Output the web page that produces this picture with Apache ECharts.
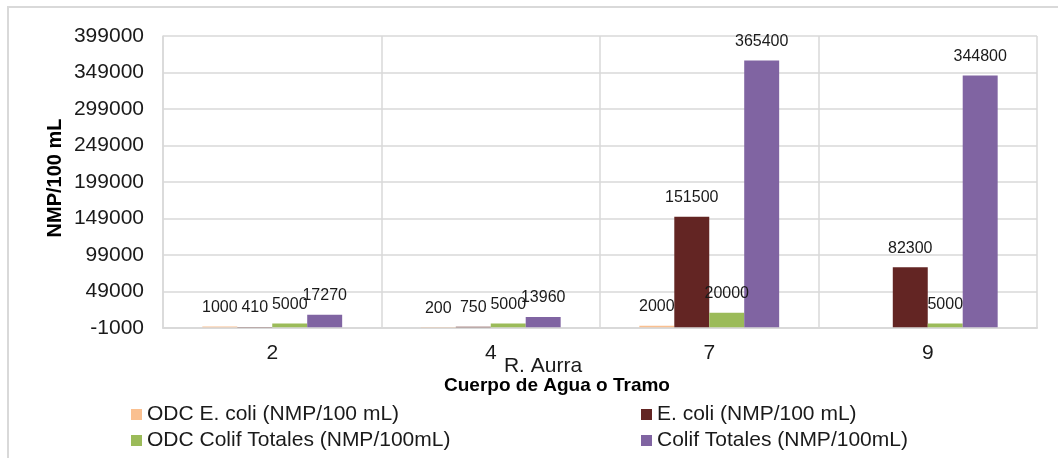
<!DOCTYPE html>
<html>
<head>
<meta charset="utf-8">
<script src="https://cdn.jsdelivr.net/npm/echarts@6/dist/echarts.min.js"></script>
<style>
html,body{margin:0;padding:0;background:#fff;}
#c{width:1058px;height:458px;}
</style>
</head>
<body>
<div id="c"></div>
<script>
const categories = ['2', '4', '7', '9'];
const odcEcoli = [1000, 200, 2000, null];
const ecoli = [410, 750, 151500, 82300];
const odcColif = [5000, 5000, 20000, 5000];
const colif = [17270, 13960, 365400, 344800];
const seriesNames = ['ODC E. coli (NMP/100 mL)', 'E. coli (NMP/100 mL)', 'ODC Colif Totales (NMP/100mL)', 'Colif Totales (NMP/100mL)'];
const colors = ['#FAC090', '#632523', '#9BBB59', '#8064A2'];

const FONT = 'Liberation Sans, Arial, sans-serif';
const chart = echarts.init(document.getElementById('c'), null, {renderer: 'canvas'});

function bar(name, data, color) {
  return {
    name: name, type: 'bar', data: data,
    barGap: '0%', barCategoryGap: '36%',
    itemStyle: {color: color},
    label: {
      show: true, position: 'top', distance: 11,
      fontFamily: FONT, fontSize: 16, color: '#1a1a1a',
      formatter: p => (p.value == null ? '' : String(p.value))
    }
  };
}

const legendCommon = {
  orient: 'vertical', icon: 'rect', itemWidth: 11, itemHeight: 11, itemGap: 5,
  textStyle: {fontFamily: FONT, fontSize: 21, color: '#1a1a1a', lineHeight: 21},
  selectedMode: false
};

chart.setOption({
  animation: false,
  color: colors,
  grid: {left: 163, right: 21, top: 36, bottom: 130},
  xAxis: {
    type: 'category', data: categories,
    axisLine: {show: true, lineStyle: {color: '#d9d9d9', width: 2}},
    axisTick: {show: false},
    splitLine: {show: true, lineStyle: {color: '#d9d9d9', width: 1.5}},
    axisLabel: {fontFamily: FONT, fontSize: 21, color: '#1a1a1a', margin: 15}
  },
  yAxis: {
    type: 'value', min: -1000, max: 399000, interval: 50000,
    axisLine: {show: true, lineStyle: {color: '#d9d9d9', width: 1.5}},
    axisTick: {show: false},
    splitLine: {show: true, lineStyle: {color: '#d9d9d9', width: 1.5}},
    axisLabel: {fontFamily: FONT, fontSize: 21, color: '#1a1a1a', margin: 19, formatter: v => String(v)}
  },
  legend: [
    Object.assign({left: 126, top: 399, data: [seriesNames[0], seriesNames[2]]}, legendCommon),
    Object.assign({left: 636, top: 399, data: [seriesNames[1], seriesNames[3]]}, legendCommon)
  ],
  graphic: [
    {type: 'rect', silent: true, z: -1, shape: {x: 8, y: 7, width: 1200, height: 600},
     style: {fill: 'none', stroke: '#d9d9d9', lineWidth: 2}},
    {type: 'text', x: 55, y: 178, rotation: Math.PI / 2,
     style: {text: 'NMP/100 mL', fontFamily: FONT, fontSize: 20, fontWeight: 'bold', fill: '#000',
             textAlign: 'center', textVerticalAlign: 'middle'}},
    {type: 'text', x: 543, y: 366,
     style: {text: 'R. Aurra', fontFamily: FONT, fontSize: 21, fill: '#1a1a1a',
             textAlign: 'center', textVerticalAlign: 'middle'}},
    {type: 'text', x: 557, y: 386,
     style: {text: 'Cuerpo de Agua o Tramo', fontFamily: FONT, fontSize: 19, fontWeight: 'bold', fill: '#000',
             textAlign: 'center', textVerticalAlign: 'middle'}}
  ],
  series: [
    bar(seriesNames[0], odcEcoli, colors[0]),
    bar(seriesNames[1], ecoli, colors[1]),
    bar(seriesNames[2], odcColif, colors[2]),
    bar(seriesNames[3], colif, colors[3])
  ]
});
</script>
</body>
</html>
